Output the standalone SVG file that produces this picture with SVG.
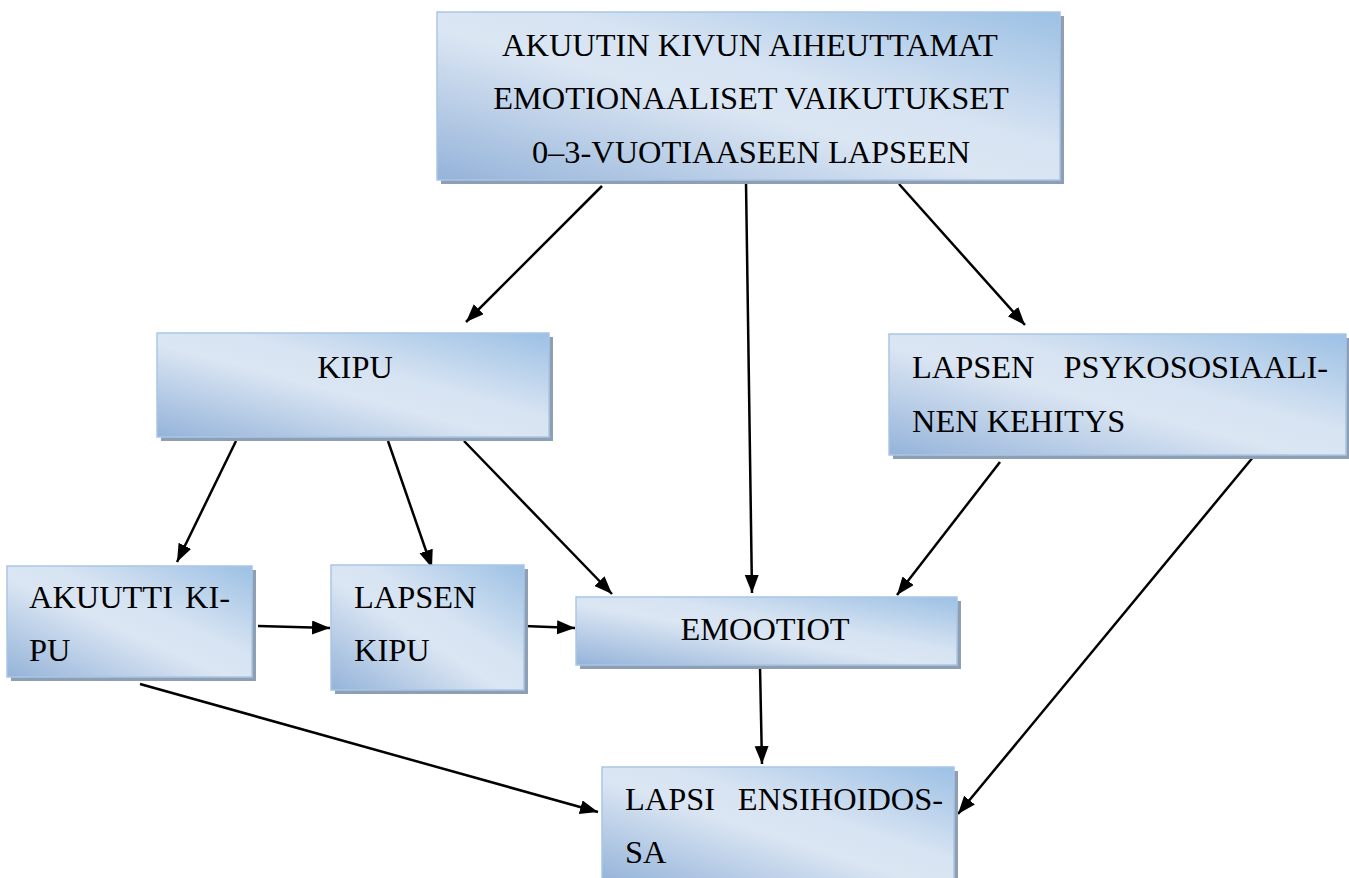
<svg xmlns="http://www.w3.org/2000/svg" width="1349" height="878" viewBox="0 0 1349 878">
<defs>
<linearGradient id="g" x1="0" y1="1" x2="1" y2="0">
<stop offset="0" stop-color="#94b3d9"/>
<stop offset="0.45" stop-color="#dbe6f3"/>
<stop offset="0.6" stop-color="#d6e3f2"/>
<stop offset="1" stop-color="#9cc0e4"/>
</linearGradient>
<marker id="ah" markerUnits="userSpaceOnUse" markerWidth="20" markerHeight="16" refX="18" refY="7" orient="auto">
<path d="M0,0 L18,7 L0,14 z" fill="#000"/>
</marker>
<style>
.sh{fill:#8e9fb4}
.bx{fill:url(#g);stroke:#a9c6e6;stroke-width:1.5}
.t{font-family:"Liberation Serif","Times New Roman",serif;font-size:32.4px;fill:#000}
.c{text-anchor:middle}
.e{text-anchor:end}
.cn line{stroke:#000;stroke-width:2.5;marker-end:url(#ah)}
</style>
</defs>
<rect width="1349" height="878" fill="#fff"/>

<g id="connectors" class="cn">
<line x1="602" y1="186" x2="466" y2="322"/>
<line x1="746" y1="182" x2="752" y2="593"/>
<line x1="899" y1="184" x2="1025" y2="325"/>
<line x1="236" y1="441" x2="177" y2="562"/>
<line x1="388" y1="441" x2="432" y2="568"/>
<line x1="464" y1="441" x2="612" y2="594"/>
<line x1="1000" y1="462" x2="897" y2="595"/>
<line x1="1254" y1="456" x2="958" y2="814"/>
<line x1="258" y1="626" x2="330" y2="628"/>
<line x1="524" y1="626" x2="575" y2="628"/>
<line x1="760" y1="667" x2="762" y2="764"/>
<line x1="140" y1="684" x2="598" y2="812"/>
</g>

<g id="top">
<rect class="sh" x="441" y="16" width="623" height="168"/>
<rect class="bx" x="437" y="12" width="623" height="168"/>
<text class="t c" x="750" y="56">AKUUTIN KIVUN AIHEUTTAMAT</text>
<text class="t c" x="751" y="109">EMOTIONAALISET VAIKUTUKSET</text>
<text class="t c" x="751" y="163">0–3-VUOTIAASEEN LAPSEEN</text>
</g>

<g id="kipu">
<rect class="sh" x="161" y="337" width="392" height="104"/>
<rect class="bx" x="157" y="333" width="392" height="104"/>
<text class="t c" x="355" y="378">KIPU</text>
</g>

<g id="psyko">
<rect class="sh" x="893" y="338" width="460" height="121"/>
<rect class="bx" x="889" y="334" width="457" height="121"/>
<text class="t" x="912" y="378">LAPSEN</text>
<text class="t e" x="1328" y="378">PSYKOSOSIAALI-</text>
<text class="t" x="912" y="432">NEN KEHITYS</text>
</g>

<g id="akuutti">
<rect class="sh" x="11" y="570" width="245" height="111"/>
<rect class="bx" x="7" y="566" width="245" height="111"/>
<text class="t" x="29" y="608">AKUUTTI</text>
<text class="t e" x="230" y="608">KI-</text>
<text class="t" x="29" y="661">PU</text>
</g>

<g id="lapsenkipu">
<rect class="sh" x="335" y="569" width="193" height="125"/>
<rect class="bx" x="331" y="565" width="193" height="125"/>
<text class="t" x="354" y="608">LAPSEN</text>
<text class="t" x="354" y="661">KIPU</text>
</g>

<g id="emootiot">
<rect class="sh" x="580" y="601" width="381" height="68"/>
<rect class="bx" x="576" y="597" width="381" height="68"/>
<text class="t c" x="765" y="640">EMOOTIOT</text>
</g>

<g id="lapsi">
<rect class="sh" x="606" y="771" width="352" height="115"/>
<rect class="bx" x="602" y="767" width="352" height="115"/>
<text class="t" x="625" y="810">LAPSI</text>
<text class="t e" x="943" y="810">ENSIHOIDOS-</text>
<text class="t" x="625" y="863">SA</text>
</g>
</svg>
